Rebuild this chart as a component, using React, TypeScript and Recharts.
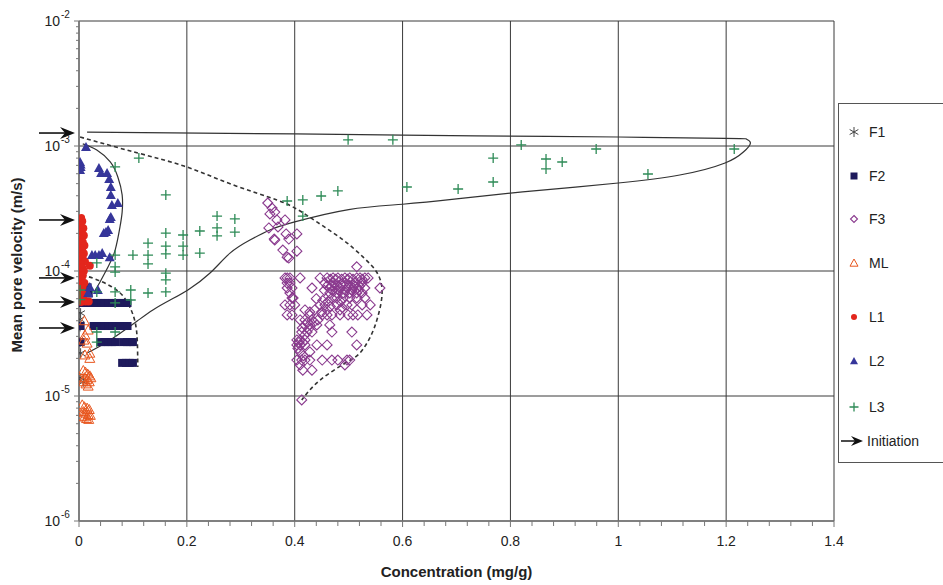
import React from 'react';
import { ScatterChart, Scatter, XAxis, YAxis, CartesianGrid, ReferenceDot } from 'recharts';

// axis ticks
const xTickLabels = ['0', '0.2', '0.4', '0.6', '0.8', '1', '1.2', '1.4'];
const xMajor = xTickLabels.map(Number);
const xMinorStep = 0.04;
const yDecades = [1e-6, 1e-5, 1e-4, 1e-3, 1e-2];

// measured points  [concentration mg/g, velocity m/s]
const f1Points = [
  [0.002, 6.1e-5], [0.003, 4.6e-5], [0.002, 4.1e-5], [0.002, 3.6e-5], [0.002, 2.7e-5],
  [0.003, 2.2e-5], [0.002, 1.4e-5], [0.008, 1.3e-5],
];

const f2Points = [
  [0.016, 7.4e-5], [0.018, 6.6e-5],
  [0.006, 5.55e-5], [0.013, 5.55e-5], [0.02, 5.55e-5], [0.027, 5.55e-5], [0.034, 5.55e-5], [0.041, 5.55e-5],
  [0.048, 5.55e-5], [0.055, 5.55e-5], [0.062, 5.55e-5], [0.069, 5.55e-5], [0.076, 5.55e-5], [0.083, 5.55e-5], [0.09, 5.55e-5],
  [0.003, 3.63e-5], [0.027, 3.63e-5], [0.034, 3.63e-5], [0.041, 3.63e-5], [0.048, 3.63e-5], [0.055, 3.63e-5],
  [0.062, 3.63e-5], [0.069, 3.63e-5], [0.076, 3.63e-5], [0.083, 3.63e-5], [0.09, 3.63e-5],
  [0.003, 2.7e-5], [0.04, 2.7e-5], [0.047, 2.7e-5], [0.054, 2.7e-5], [0.061, 2.7e-5], [0.068, 2.7e-5],
  [0.082, 2.7e-5], [0.089, 2.7e-5], [0.096, 2.7e-5], [0.1, 2.7e-5],
  [0.08, 1.84e-5], [0.087, 1.84e-5], [0.094, 1.84e-5], [0.1, 1.84e-5],
];

const f3Points = [
  [0.35, 3.5e-4], [0.358, 3.19e-4], [0.363, 2.96e-4], [0.354, 2.86e-4], [0.367, 2.56e-4], [0.382, 2.56e-4],
  [0.352, 2.21e-4], [0.369, 2.25e-4], [0.362, 1.8e-4], [0.363, 1.77e-4], [0.384, 1.98e-4], [0.389, 1.8e-4],
  [0.404, 1.98e-4], [0.378, 1.47e-4], [0.404, 1.44e-4], [0.386, 1.29e-4], [0.389, 1.27e-4], [0.515, 1.08e-4],
  [0.382, 8.8e-5], [0.386, 8.8e-5], [0.391, 8.8e-5], [0.41, 8.8e-5], [0.447, 8.8e-5], [0.46, 8.8e-5], [0.471, 8.8e-5],
  [0.48, 8.8e-5], [0.493, 8.8e-5], [0.502, 8.8e-5], [0.515, 8.8e-5], [0.521, 8.8e-5], [0.53, 8.8e-5], [0.536, 8.8e-5],
  [0.466, 8.6e-5], [0.476, 8.6e-5], [0.487, 8.6e-5], [0.498, 8.6e-5], [0.508, 8.6e-5], [0.525, 8.6e-5],
  [0.386, 8.0e-5], [0.391, 8.0e-5], [0.456, 8.0e-5], [0.471, 8.0e-5], [0.493, 8.0e-5], [0.512, 8.0e-5], [0.525, 8.0e-5],
  [0.46, 7.6e-5], [0.468, 7.6e-5], [0.478, 7.6e-5], [0.488, 7.6e-5], [0.5, 7.6e-5], [0.51, 7.6e-5], [0.52, 7.6e-5],
  [0.386, 7.31e-5], [0.395, 7.31e-5], [0.432, 7.31e-5], [0.465, 7.31e-5], [0.475, 7.31e-5], [0.484, 7.31e-5],
  [0.497, 7.31e-5], [0.508, 7.31e-5], [0.517, 7.31e-5], [0.53, 7.31e-5], [0.558, 7.31e-5],
  [0.455, 7.0e-5], [0.47, 7.0e-5], [0.482, 7.0e-5], [0.494, 7.0e-5], [0.506, 7.0e-5], [0.518, 7.0e-5],
  [0.391, 6.67e-5], [0.465, 6.67e-5], [0.478, 6.67e-5], [0.49, 6.67e-5], [0.502, 6.67e-5], [0.515, 6.67e-5], [0.525, 6.67e-5],
  [0.395, 6.08e-5], [0.397, 6.08e-5], [0.469, 6.08e-5], [0.478, 6.08e-5], [0.49, 6.08e-5], [0.502, 6.08e-5],
  [0.515, 6.08e-5], [0.53, 6.08e-5], [0.44, 6.0e-5], [0.452, 5.8e-5], [0.462, 5.7e-5], [0.485, 5.7e-5],
  [0.382, 5.35e-5], [0.391, 5.35e-5], [0.4, 5.35e-5], [0.447, 5.35e-5], [0.456, 5.35e-5], [0.478, 5.35e-5],
  [0.497, 5.35e-5], [0.506, 5.35e-5], [0.525, 5.35e-5], [0.54, 5.35e-5], [0.466, 5.2e-5], [0.488, 5.1e-5],
  [0.419, 4.88e-5], [0.437, 4.88e-5], [0.46, 4.88e-5], [0.484, 4.88e-5], [0.428, 4.7e-5], [0.45, 4.7e-5],
  [0.386, 4.45e-5], [0.395, 4.45e-5], [0.428, 4.45e-5], [0.451, 4.45e-5], [0.46, 4.45e-5], [0.469, 4.45e-5],
  [0.484, 4.45e-5], [0.499, 4.45e-5], [0.508, 4.45e-5], [0.517, 4.45e-5], [0.534, 4.45e-5],
  [0.41, 4.06e-5], [0.419, 4.06e-5], [0.432, 4.06e-5], [0.443, 4.06e-5], [0.424, 3.9e-5], [0.436, 3.9e-5],
  [0.419, 3.7e-5], [0.428, 3.7e-5], [0.441, 3.7e-5], [0.465, 3.7e-5], [0.414, 3.5e-5], [0.426, 3.45e-5],
  [0.413, 3.25e-5], [0.423, 3.25e-5], [0.432, 3.25e-5], [0.469, 3.25e-5], [0.506, 3.25e-5], [0.418, 3.05e-5],
  [0.404, 2.81e-5], [0.41, 2.81e-5], [0.419, 2.81e-5], [0.408, 2.68e-5], [0.415, 2.68e-5],
  [0.404, 2.56e-5], [0.41, 2.56e-5], [0.419, 2.56e-5], [0.441, 2.56e-5], [0.46, 2.56e-5], [0.515, 2.56e-5],
  [0.41, 2.25e-5], [0.428, 2.25e-5], [0.406, 2.4e-5], [0.416, 2.1e-5],
  [0.404, 1.94e-5], [0.413, 1.94e-5], [0.419, 1.94e-5], [0.428, 1.94e-5], [0.451, 1.94e-5], [0.469, 1.94e-5],
  [0.48, 1.94e-5], [0.497, 1.94e-5], [0.502, 1.94e-5],
  [0.41, 1.77e-5], [0.493, 1.77e-5], [0.415, 1.61e-5], [0.432, 1.61e-5], [0.413, 9.3e-6],
];

const mlPoints = [
  [0.01, 4.0e-5], [0.017, 3.37e-5], [0.011, 3.07e-5], [0.009, 2.8e-5], [0.015, 2.65e-5], [0.011, 2.13e-5],
  [0.02, 2.2e-5], [0.02, 2.0e-5],
  [0.008, 1.6e-5], [0.012, 1.55e-5], [0.016, 1.5e-5], [0.02, 1.45e-5], [0.01, 1.4e-5], [0.015, 1.35e-5],
  [0.019, 1.3e-5], [0.008, 1.3e-5], [0.013, 1.25e-5], [0.017, 1.2e-5], [0.022, 1.4e-5],
  [0.006, 8.5e-6], [0.01, 8.2e-6], [0.015, 8.0e-6], [0.019, 7.8e-6], [0.008, 7.5e-6], [0.012, 7.3e-6],
  [0.017, 7.1e-6], [0.021, 7.0e-6], [0.01, 6.8e-6], [0.014, 6.6e-6], [0.018, 6.5e-6], [0.006, 6.9e-6],
];

const l1Points = [
  [0.004, 2.65e-4], [0.006, 2.5e-4], [0.003, 2.33e-4], [0.008, 2.2e-4], [0.005, 2.05e-4], [0.009, 1.92e-4],
  [0.004, 1.8e-4], [0.007, 1.7e-4], [0.01, 1.6e-4], [0.003, 1.53e-4], [0.006, 1.45e-4], [0.009, 1.38e-4],
  [0.004, 1.32e-4], [0.007, 1.25e-4], [0.011, 1.19e-4], [0.003, 1.14e-4], [0.006, 1.06e-4], [0.02, 1.1e-4],
  [0.009, 1.0e-4], [0.004, 9.8e-5], [0.007, 9.2e-5], [0.005, 8.5e-5], [0.01, 8.0e-5], [0.003, 7.6e-5],
  [0.007, 7.3e-5], [0.004, 6.8e-5], [0.009, 6.5e-5], [0.005, 6.3e-5], [0.008, 6.0e-5], [0.012, 5.7e-5],
  [0.004, 5.65e-5], [0.018, 5.7e-5],
];

const l2Points = [
  [0.013, 9.8e-4], [0.002, 7.45e-4], [0.003, 7.1e-4], [0.003, 6.8e-4], [0.002, 6.43e-4], [0.037, 6.67e-4],
  [0.041, 6.08e-4], [0.052, 6.08e-4], [0.056, 5.45e-4], [0.059, 4.7e-4], [0.059, 4.06e-4], [0.072, 3.5e-4],
  [0.061, 3.37e-4], [0.059, 2.7e-4], [0.057, 2.61e-4], [0.054, 2.13e-4], [0.046, 2.01e-4], [0.05, 2.05e-4],
  [0.024, 1.34e-4], [0.03, 1.34e-4], [0.037, 1.34e-4], [0.043, 1.39e-4], [0.057, 1.29e-4],
  [0.02, 7.45e-5], [0.035, 7.05e-5], [0.017, 6.67e-5],
];

const l3Points = [
  [0.002, 7.05e-5], [0.002, 5.9e-5], [0.033, 1.16e-4], [0.033, 6.8e-5], [0.033, 3.25e-5], [0.033, 2.7e-5],
  [0.067, 6.8e-4], [0.067, 1.34e-4], [0.067, 1.08e-4], [0.067, 9.8e-5], [0.067, 6.8e-5], [0.067, 5.55e-5],
  [0.067, 3.25e-5], [0.096, 7.05e-5], [0.096, 5.86e-5], [0.1, 1.34e-4], [0.111, 8.0e-4], [0.128, 1.67e-4],
  [0.128, 1.34e-4], [0.128, 1.14e-4], [0.128, 6.67e-5], [0.161, 4.06e-4], [0.161, 2.01e-4], [0.161, 1.58e-4],
  [0.161, 1.37e-4], [0.161, 9.6e-5], [0.161, 8.5e-5], [0.161, 6.8e-5], [0.193, 1.94e-4], [0.193, 1.58e-4],
  [0.193, 1.34e-4], [0.224, 2.09e-4], [0.224, 1.39e-4], [0.256, 2.75e-4], [0.256, 2.21e-4], [0.256, 1.91e-4],
  [0.289, 2.61e-4], [0.289, 2.05e-4], [0.386, 3.63e-4], [0.415, 3.7e-4], [0.415, 2.75e-4], [0.449, 3.98e-4],
  [0.48, 4.37e-4], [0.499, 1.12e-3], [0.582, 1.12e-3], [0.608, 4.7e-4], [0.703, 4.53e-4], [0.768, 8.0e-4],
  [0.768, 5.15e-4], [0.82, 1.02e-3], [0.866, 7.87e-4], [0.866, 6.55e-4], [0.896, 7.45e-4], [0.959, 9.46e-4],
  [1.055, 5.97e-4], [1.215, 9.46e-4],
];

// hand-drawn envelopes
const l3Envelope = [
  [0.015, 2.21e-5], [0.058, 2.81e-5], [0.108, 3.98e-5], [0.137, 4.88e-5], [0.169, 5.86e-5], [0.202, 7.05e-5],
  [0.243, 9.64e-5], [0.28, 1.39e-4], [0.317, 1.77e-4], [0.354, 2.13e-4], [0.4, 2.47e-4], [0.5, 3.1e-4],
  [0.6, 3.42e-4], [0.7, 3.77e-4], [0.8, 4.2e-4], [0.9, 4.6e-4], [1.0, 5.06e-4], [1.114, 5.86e-4],
  [1.198, 7.31e-4], [1.232, 8.95e-4], [1.245, 1.06e-3], [1.237, 1.14e-3], [1.198, 1.15e-3],
  [1.0, 1.18e-3], [0.8, 1.2e-3], [0.6, 1.22e-3], [0.4, 1.25e-3], [0.015, 1.29e-3],
];
const l2Envelope = [
  [0.007, 1.04e-3], [0.033, 9.29e-4], [0.058, 7.45e-4], [0.072, 5.65e-4], [0.08, 4.06e-4], [0.08, 2.96e-4],
  [0.076, 2.25e-4], [0.067, 1.47e-4], [0.054, 1.08e-4], [0.039, 8.17e-5], [0.028, 6.79e-5],
];
const f2Envelope = [
  [0.006, 9.29e-5], [0.03, 8.63e-5], [0.058, 7.59e-5], [0.08, 6.43e-5], [0.095, 5.06e-5], [0.104, 3.91e-5],
  [0.108, 2.81e-5], [0.109, 1.71e-5],
];
const f3Envelope = [
  [0.002, 1.18e-3], [0.109, 8.79e-4], [0.2, 6.79e-4], [0.286, 4.88e-4], [0.367, 3.7e-4], [0.41, 3.02e-4],
  [0.441, 2.47e-4], [0.49, 1.77e-4], [0.527, 1.29e-4], [0.553, 9.64e-5], [0.562, 6.67e-5], [0.554, 4.29e-5],
  [0.54, 2.96e-5], [0.521, 2.21e-5], [0.497, 1.87e-5], [0.447, 1.34e-5], [0.413, 9.29e-6],
];

// initiation velocities (arrows on the y axis)
const initiationLevels = [1.27e-3, 2.56e-4, 8.8e-5, 5.65e-5, 3.5e-5];

const toXY = (pts: number[][]) => pts.map(([x, y]) => ({ x, y }));

const FONT = '"Liberation Sans", Arial, sans-serif';
const C = {
  f1: '#444444',
  f2: '#1e1a5c',
  f3: '#8a3a8e',
  ml: '#e8561e',
  l1: '#e3261c',
  l2: '#36369a',
  l3: '#2e8b57',
  grid: '#3a3a3a',
  axis: '#777777',
};

const Asterisk = ({ cx, cy, color = C.f1, s = 5 }: any) => (
  <path
    d={`M${cx},${cy - s}v${2 * s}M${cx - s * 0.87},${cy - s * 0.5}L${cx + s * 0.87},${cy + s * 0.5}M${cx - s * 0.87},${cy + s * 0.5}L${cx + s * 0.87},${cy - s * 0.5}`}
    stroke={color}
    strokeWidth={1}
    fill="none"
  />
);
const Square = ({ cx, cy, color = C.f2, s = 4 }: any) => (
  <rect x={cx - s} y={cy - s} width={2 * s} height={2 * s} fill={color} />
);
const Diamond = ({ cx, cy, color = C.f3, s = 5 }: any) => (
  <path d={`M${cx},${cy - s}L${cx + s},${cy}L${cx},${cy + s}L${cx - s},${cy}Z`} stroke={color} strokeWidth={1.1} fill="none" />
);
const OpenTri = ({ cx, cy, color = C.ml, s = 5 }: any) => (
  <path d={`M${cx},${cy - s}L${cx + s},${cy + s * 0.8}L${cx - s},${cy + s * 0.8}Z`} stroke={color} strokeWidth={1} fill="none" />
);
const Dot = ({ cx, cy, color = C.l1, s = 4 }: any) => <circle cx={cx} cy={cy} r={s} fill={color} />;
const FillTri = ({ cx, cy, color = C.l2, s = 5 }: any) => (
  <path d={`M${cx},${cy - s}L${cx + s},${cy + s * 0.8}L${cx - s},${cy + s * 0.8}Z`} fill={color} />
);
const Plus = ({ cx, cy, color = C.l3, s = 5 }: any) => (
  <path d={`M${cx - s},${cy}h${2 * s}M${cx},${cy - s}v${2 * s}`} stroke={color} strokeWidth={1.3} fill="none" />
);
const NoShape = () => <g />;

const ArrowMark = ({ cx, cy }: any) => {
  if (cx == null || cy == null) return <g />;
  const tip = cx - 4;
  return (
    <g>
      <line x1={tip - 36} y1={cy} x2={tip - 8} y2={cy} stroke="#111" strokeWidth={1.6} />
      <path d={`M${tip},${cy}L${tip - 15},${cy - 6}L${tip - 10},${cy}L${tip - 15},${cy + 6}Z`} fill="#111" />
    </g>
  );
};

const isDecade = (v: number) => Math.abs(Math.log10(v) - Math.round(Math.log10(v))) < 1e-6;

const YTick = ({ x, y, payload }: any) => {
  const v = payload.value;
  if (!isDecade(v)) return <line x1={x - 3} y1={y} x2={x} y2={y} stroke={C.axis} strokeWidth={1} />;
  const exp = Math.round(Math.log10(v));
  return (
    <g>
      <line x1={x - 5} y1={y} x2={x} y2={y} stroke={C.axis} strokeWidth={1} />
      <text x={x - 19} y={y + 5} textAnchor="end" fontSize={14} fontFamily={FONT} fill="#222">10</text>
      <text x={x - 18} y={y - 3} textAnchor="start" fontSize={10} fontFamily={FONT} fill="#222">{String(exp)}</text>
    </g>
  );
};

const XTick = ({ x, y, payload }: any) => {
  const v = payload.value;
  const idx = xMajor.findIndex((m) => Math.abs(m - v) < 1e-6);
  return (
    <g>
      <line x1={x} y1={y} x2={x} y2={y + (idx >= 0 ? 6 : 5)} stroke={C.axis} strokeWidth={1} />
      {idx >= 0 && (
        <text x={x} y={y + 25} textAnchor="middle" fontSize={14} fontFamily={FONT} fill="#222">
          {xTickLabels[idx]}
        </text>
      )}
    </g>
  );
};

const legendItems = [
  { name: 'F1', top: 131, Mark: Asterisk, s: 5 },
  { name: 'F2', top: 175, Mark: Square, s: 3.5 },
  { name: 'F3', top: 218, Mark: Diamond, s: 3.5 },
  { name: 'ML', top: 262, Mark: OpenTri, s: 4 },
  { name: 'L1', top: 316, Mark: Dot, s: 3 },
  { name: 'L2', top: 360, Mark: FillTri, s: 4 },
  { name: 'L3', top: 406, Mark: Plus, s: 4.5 },
];

const LegendBox = () => (
  <div
    style={{
      position: 'absolute',
      left: 838,
      top: 103,
      width: 120,
      height: 358,
      borderTop: '1px solid #555',
      borderLeft: '1px solid #555',
      borderBottom: '1px solid #555',
    }}
  >
    <svg width={120} height={358} style={{ position: 'absolute', left: 0, top: 0 }}>
      {legendItems.map(({ name, top, Mark, s }) => (
        <g key={name}>
          <Mark cx={15} cy={top - 103} s={s} />
          <text x={30} y={top - 103 + 5} fontSize={14} fontFamily={FONT} fill="#222">{name}</text>
        </g>
      ))}
      <line x1={2} y1={337} x2={16} y2={337} stroke="#111" strokeWidth={1.5} />
      <path d="M24,337L12,332L16,337L12,342Z" fill="#111" />
      <text x={28} y={342} fontSize={14} fontFamily={FONT} fill="#222">Initiation</text>
    </svg>
  </div>
);

export default function App() {
  const yMinor: number[] = [];
  for (let d = -6; d < -2; d++) {
    for (let k = 1; k <= 9; k++) yMinor.push(Number((k * Math.pow(10, d)).toPrecision(3)));
  }
  const yTicks = [...yMinor, 1e-2];
  const xTicks = Array.from({ length: 36 }, (_, i) => Math.round(i * xMinorStep * 100) / 100);

  const curve = (pts: number[][], dashed: boolean, key: string, jt: any = 'linear') => (
    <Scatter
      key={key}
      data={toXY(pts)}
      line={{ stroke: '#333', strokeWidth: dashed ? 1.6 : 1.2, strokeDasharray: dashed ? '4 3' : undefined, fill: 'none' }}
      lineJointType={jt}
      shape={NoShape}
      isAnimationActive={false}
    />
  );

  return (
    <div style={{ position: 'absolute', left: 0, top: 0, width: 943, height: 585, overflow: 'hidden', background: '#fff' }}>
      <ScatterChart width={943} height={585} margin={{ top: 21, right: 109, bottom: 0, left: 0 }}>
        <CartesianGrid stroke={C.grid} strokeWidth={1} horizontalValues={yDecades} verticalValues={xMajor} />
        <XAxis
          type="number"
          dataKey="x"
          domain={[0, 1.4]}
          ticks={xTicks}
          interval={0}
          allowDataOverflow
          height={64}
          tickSize={0}
          tickMargin={0}
          tickLine={false}
          tick={<XTick />}
          axisLine={{ stroke: C.axis, strokeWidth: 1.5 }}
          label={({ viewBox }: any) => (
            <text
              x={viewBox.x + viewBox.width / 2}
              y={577}
              textAnchor="middle"
              fontSize={15}
              fontWeight="bold"
              fontFamily={FONT}
              fill="#222"
            >
              Concentration (mg/g)
            </text>
          )}
        />
        <YAxis
          type="number"
          dataKey="y"
          scale="log"
          domain={[1e-6, 1e-2]}
          ticks={yTicks}
          interval={0}
          allowDataOverflow
          width={79}
          tickSize={0}
          tickMargin={0}
          tickLine={false}
          tick={<YTick />}
          axisLine={{ stroke: C.axis, strokeWidth: 1.5 }}
          label={() => (
            <text
              x={18}
              y={265}
              transform="rotate(-90, 18, 265)"
              textAnchor="middle"
              dominantBaseline="middle"
              fontSize={15}
              fontWeight="bold"
              fontFamily={FONT}
              fill="#222"
            >
              Mean pore velocity (m/s)
            </text>
          )}
        />
        {curve(l3Envelope, false, 'envL3', 'natural')}
        {curve(l2Envelope, false, 'envL2', 'natural')}
        {curve(f2Envelope, true, 'envF2', 'natural')}
        {curve(f3Envelope, true, 'envF3', 'natural')}
        <Scatter name="F1" data={toXY(f1Points)} shape={<Asterisk />} isAnimationActive={false} />
        <Scatter name="F2" data={toXY(f2Points)} shape={<Square />} isAnimationActive={false} />
        <Scatter name="F3" data={toXY(f3Points)} shape={<Diamond />} isAnimationActive={false} />
        <Scatter name="ML" data={toXY(mlPoints)} shape={<OpenTri />} isAnimationActive={false} />
        <Scatter name="L1" data={toXY(l1Points)} shape={<Dot />} isAnimationActive={false} />
        <Scatter name="L2" data={toXY(l2Points)} shape={<FillTri />} isAnimationActive={false} />
        <Scatter name="L3" data={toXY(l3Points)} shape={<Plus />} isAnimationActive={false} />
        {initiationLevels.map((v) => (
          <ReferenceDot key={v} x={0} y={v} r={0} ifOverflow="visible" shape={<ArrowMark />} />
        ))}
      </ScatterChart>
      <LegendBox />
    </div>
  );
}
